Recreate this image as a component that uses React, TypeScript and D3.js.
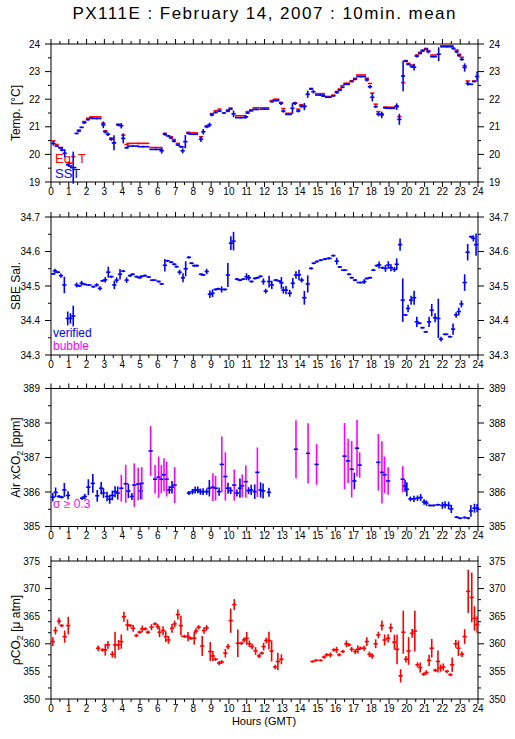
import React from 'react';
import * as d3 from 'd3';

// [hour, value, halfError, halfWidth?]
type Pt = [number, number, number, number?];
// [hour, value, halfWidth?]
type Lv = [number, number, number?];

const hours = d3.range(0, 25);

const sst: Pt[] = [
  [0.13,20.40,0.08],[0.32,20.30,0.03],[0.54,20.24,0.03,0.14],[0.62,20.16,0.05],[0.77,20.04,0.15],
  [0.96,19.62,0.05],[1.07,19.58,0.04],[1.25,19.52,0.58,0.18],[1.44,20.76,0.03],[1.57,20.85,0.04],
  [1.72,20.98,0.03],[1.87,21.15,0.05],[2.08,21.26,0.03],[2.27,21.31,0.03],[2.56,21.30,0.03,0.28],
  [2.94,21.07,0.12],[3.05,20.82,0.06],[3.20,20.73,0.06],[3.39,20.55,0.06],[3.54,20.42,0.27],
  [3.78,21.07,0.05],[3.95,21.04,0.1],[4.06,20.58,0.18],[4.25,20.24,0.03],[4.6,20.30,0.03,0.35],
  [5.2,20.28,0.03,0.33],[5.9,20.18,0.03,0.37],[6.22,20.13,0.1],[6.40,20.73,0.05],[6.59,20.67,0.03],
  [6.74,20.60,0.04],[6.91,20.48,0.05],[7.13,20.34,0.04],[7.30,20.28,0.03],[7.40,20.13,0.09],
  [7.55,20.46,0.24],[7.72,20.76,0.04],[8.02,20.73,0.03,0.25],[8.43,20.55,0.1],[8.56,20.82,0.1],
  [8.75,21.00,0.05],[8.91,21.07,0.08],[9.04,21.43,0.05],[9.25,21.52,0.04],[9.47,21.57,0.04],
  [9.72,21.50,0.03],[9.94,21.57,0.04],[10.09,21.64,0.03],[10.26,21.47,0.12],[10.65,21.33,0.03,0.31],
  [10.96,21.36,0.06],[11.05,21.50,0.03],[11.25,21.58,0.03],[11.53,21.63,0.03,0.2],
  [12.01,21.64,0.03,0.26],[12.41,21.91,0.03],[12.65,21.95,0.03,0.19],[12.93,21.85,0.06],[13.06,21.57,0.06],
  [13.35,21.45,0.03,0.19],[13.57,21.67,0.2],[13.72,21.85,0.06],[13.90,21.57,0.05],[14.07,21.75,0.06],
  [14.24,21.73,0.13],[14.43,22.18,0.13],[14.62,22.37,0.03],[14.75,22.27,0.06],[15.12,22.15,0.03,0.28],
  [15.31,22.11,0.03],[15.59,22.07,0.03,0.19],[15.87,22.12,0.03],[16.06,22.24,0.04],[16.23,22.33,0.04],
  [16.38,22.43,0.03],[16.62,22.54,0.03,0.19],[16.90,22.64,0.03],[17.09,22.72,0.03],[17.43,22.82,0.03,0.28],
  [17.75,22.70,0.06],[17.93,22.45,0.06],[18.06,22.07,0.15],[18.25,21.73,0.05],[18.40,21.46,0.08],
  [18.59,21.43,0.12],[18.78,21.69,0.04],[19.08,21.67,0.03,0.26],[19.43,21.73,0.12],[19.58,21.27,0.2],
  [19.79,22.84,0.55],[19.94,23.38,0.04],[20.09,23.26,0.03],[20.28,23.18,0.04],[20.41,23.16,0.12],
  [20.56,23.56,0.05],[20.74,23.66,0.04],[20.89,23.75,0.04],[21.08,23.81,0.03],[21.21,23.72,0.06],
  [21.50,23.54,0.03,0.19],[21.79,23.63,0.25],[22.25,23.90,0.03,0.38],[22.62,23.84,0.05],[22.80,23.72,0.05],
  [22.94,23.58,0.04],[23.09,23.44,0.05],[23.25,23.15,0.15],[23.42,22.57,0.08],[23.59,22.54,0.03,0.14],
  [23.78,22.64,0.03],[23.95,22.82,0.18],
];

const eqT: Lv[] = [
  [0.13,20.49],[0.32,20.36],[0.54,20.25,0.14],[0.96,19.70],[1.07,19.68],[1.25,19.92],[1.57,20.88],
  [1.87,21.19],[2.08,21.31],[2.27,21.36],[2.56,21.36,0.28],[2.94,21.13],[3.05,20.85],[3.39,20.59],
  [3.54,20.42],[3.78,21.09],[4.06,20.70],[4.25,20.36],[4.6,20.40,0.35],[5.2,20.40,0.33],[5.9,20.25,0.37],
  [6.40,20.76],[6.74,20.64],[6.91,20.54],[7.13,20.40],[7.40,20.27],[7.72,20.80],[8.02,20.78,0.25],
  [8.43,20.64],[8.75,21.04],[9.04,21.48],[9.25,21.58],[9.47,21.64],[9.94,21.61],[10.09,21.68],
  [10.65,21.40,0.31],[11.05,21.55],[11.25,21.62],[11.53,21.69,0.2],[12.01,21.69,0.26],[12.41,21.95],
  [12.65,22.0,0.19],[12.93,21.88],[13.06,21.66],[13.35,21.49,0.19],[13.72,21.87],[13.90,21.64],
  [14.07,21.80],[14.24,21.76],[14.62,22.39],[15.12,22.2,0.28],[15.59,22.1,0.19],[15.87,22.15],
  [16.06,22.28],[16.23,22.37],[16.38,22.49],[16.62,22.58,0.19],[16.90,22.67],[17.09,22.76],
  [17.43,22.88,0.28],[17.75,22.76],[17.93,22.57],[18.06,22.22],[18.25,21.82],[18.40,21.55],
  [18.59,21.47],[18.78,21.71],[19.08,21.71,0.26],[19.43,21.76],[19.58,21.37],[19.79,22.6],
  [19.94,23.40],[20.09,23.30],[20.28,23.24],[20.56,23.60],[20.74,23.70],[20.89,23.78],[21.08,23.84],
  [21.21,23.76],[21.50,23.60,0.19],[22.25,23.94,0.38],[22.80,23.78],[22.94,23.63],[23.09,23.52],
  [23.25,23.21],[23.42,22.66],[23.78,22.66],
];

const salinity: Pt[] = [
  [0.13,34.535,0.003],[0.22,34.544,0.006],[0.39,34.540,0.003],[0.56,34.530,0.006],[0.75,34.503,0.024],
  [0.94,34.406,0.02],[1.09,34.406,0.015],[1.25,34.413,0.03],[1.44,34.503,0.007],[1.59,34.500,0.003],
  [1.72,34.508,0.007],[1.89,34.505,0.003],[2.12,34.503,0.003,0.16],[2.38,34.498,0.003],[2.57,34.503,0.005],
  [2.75,34.493,0.006],[2.90,34.515,0.003],[3.05,34.518,0.008],[3.22,34.540,0.016],[3.39,34.527,0.003],
  [3.56,34.503,0.012],[3.69,34.517,0.008],[3.88,34.534,0.015],[4.06,34.543,0.003],[4.25,34.517,0.008],
  [4.44,34.530,0.003],[4.59,34.534,0.003],[4.81,34.527,0.003],[4.98,34.524,0.003],[5.09,34.528,0.003],
  [5.28,34.530,0.003],[5.49,34.526,0.003],[5.75,34.517,0.003,0.19],[6.05,34.513,0.003],[6.22,34.506,0.003],
  [6.40,34.560,0.018],[6.55,34.573,0.003],[6.76,34.569,0.003],[6.93,34.563,0.003],[7.06,34.556,0.003],
  [7.23,34.540,0.007],[7.42,34.524,0.013],[7.57,34.550,0.022],[7.75,34.583,0.003],[7.90,34.566,0.003],
  [8.05,34.559,0.003],[8.20,34.559,0.003],[8.43,34.534,0.003],[8.56,34.532,0.003],[8.75,34.542,0.008],
  [8.93,34.476,0.011],[9.08,34.479,0.011],[9.25,34.490,0.003],[9.40,34.492,0.003],[9.59,34.490,0.009],
  [9.78,34.490,0.003],[9.94,34.532,0.035],[10.11,34.624,0.02],[10.26,34.630,0.027],[10.45,34.520,0.003],
  [10.62,34.517,0.003],[10.81,34.520,0.003],[10.99,34.527,0.01],[11.12,34.524,0.008],[11.27,34.513,0.003],
  [11.46,34.522,0.003],[11.61,34.524,0.003],[11.78,34.528,0.003],[11.94,34.513,0.009],[12.07,34.485,0.007],
  [12.26,34.513,0.017],[12.41,34.503,0.012],[12.64,34.517,0.003,0.14],[12.84,34.514,0.003],[12.95,34.509,0.017],
  [13.06,34.488,0.01],[13.21,34.488,0.012],[13.42,34.479,0.01],[13.59,34.508,0.015],[13.77,34.532,0.011],
  [13.94,34.532,0.015],[14.09,34.517,0.007],[14.24,34.466,0.02],[14.43,34.506,0.025],[14.62,34.551,0.003],
  [14.77,34.566,0.003],[14.95,34.571,0.003],[15.16,34.575,0.003],[15.39,34.578,0.003],[15.62,34.580,0.003,0.16],
  [15.87,34.588,0.003],[16.06,34.572,0.01],[16.23,34.555,0.003],[16.48,34.546,0.003,0.18],[16.75,34.534,0.003],
  [16.90,34.524,0.003],[17.09,34.517,0.003],[17.37,34.510,0.003,0.19],[17.61,34.513,0.007],[17.75,34.522,0.003],
  [17.93,34.524,0.003],[18.12,34.546,0.003],[18.31,34.559,0.003],[18.44,34.561,0.01],[18.63,34.553,0.003],
  [18.80,34.551,0.01],[18.96,34.561,0.011],[19.11,34.553,0.01],[19.30,34.548,0.007],[19.43,34.563,0.017],
  [19.62,34.620,0.018],[19.77,34.459,0.063],[19.92,34.416,0.003],[20.07,34.435,0.011],[20.24,34.459,0.013],
  [20.41,34.466,0.02],[20.56,34.396,0.015],[20.71,34.392,0.003],[20.88,34.379,0.003],[21.06,34.367,0.003],
  [21.25,34.396,0.015],[21.40,34.430,0.018],[21.59,34.408,0.013],[21.77,34.406,0.057],[21.92,34.346,0.007],
  [22.18,34.360,0.003,0.16],[22.43,34.353,0.003],[22.60,34.375,0.016],[22.77,34.416,0.008],[22.92,34.426,0.011],
  [23.07,34.448,0.01],[23.25,34.510,0.024],[23.42,34.598,0.024],[23.61,34.643,0.003],[23.74,34.638,0.009],
  [23.89,34.620,0.032],
];

const airCO2: Pt[] = [
  [0.10,385.85,0.12],[0.26,385.99,0.14],[0.45,385.87,0.04],[0.60,385.85,0.04],[0.75,386.06,0.2],
  [0.96,385.90,0.12],[1.75,385.82,0.05],[1.90,385.87,0.08],[2.10,386.14,0.23],[2.35,386.25,0.27],
  [2.60,385.89,0.17],[2.82,386.11,0.18],[2.95,385.97,0.14],[3.15,385.87,0.14],[3.30,385.79,0.13],
  [3.45,385.90,0.14],[3.60,386.01,0.16],[3.75,385.97,0.19],[3.95,386.11,0.39],[4.20,386.24,0.55],
  [4.35,386.03,0.21],[4.55,385.87,0.1],[4.68,386.20,0.63],[4.90,386.23,0.47],[5.05,386.03,0.24],
  [5.10,386.25,0.47],[5.60,387.19,0.72],[5.85,386.37,0.41],[6.05,386.43,0.6],[6.20,386.37,0.41],
  [6.35,386.50,0.48],[6.50,386.37,0.5],[6.65,386.06,0.11],[6.80,386.14,0.18],[6.95,386.20,0.52],
  [7.75,385.97,0.06],[7.95,386.01,0.08],[8.10,386.06,0.1],[8.25,386.06,0.1],[8.40,386.01,0.09],
  [8.55,386.01,0.1],[8.75,386.01,0.09],[8.90,386.11,0.24],[9.10,386.14,0.4],[9.25,386.11,0.36],
  [9.45,386.01,0.12],[9.60,386.80,0.81],[9.80,386.45,0.7],[9.95,386.11,0.16],[10.10,386.04,0.1],
  [10.30,386.20,0.45],[10.45,385.97,0.1],[10.62,386.11,0.28],[10.75,386.18,0.33],[10.95,386.30,0.47],
  [11.10,386.04,0.1],[11.25,386.06,0.15],[11.45,386.01,0.21],[11.60,386.57,0.72],[11.78,386.06,0.22],
  [11.92,386.03,0.22],[12.25,385.99,0.13],[13.77,387.24,0.84],[14.45,387.12,0.87],[14.93,386.80,0.59],
  [16.50,387.04,0.96],[16.70,386.90,0.64],[16.90,386.66,0.82],[17.05,386.32,0.24],[17.20,387.27,0.82],
  [17.35,386.78,0.37],[18.40,386.86,0.82],[18.60,386.57,0.9],[18.75,386.50,0.53],[18.95,386.32,0.4],
  [19.77,386.37,0.38],[19.90,386.18,0.17],[20.00,386.08,0.2],[20.20,385.80,0.07],[20.40,385.80,0.09],
  [20.60,385.82,0.08],[20.78,385.84,0.1],[20.97,385.71,0.08],[21.10,385.68,0.08],[21.30,385.61,0.03,0.12],
  [21.50,385.61,0.03,0.12],[21.75,385.63,0.03,0.14],[22.00,385.61,0.1],[22.15,385.63,0.1],[22.35,385.61,0.11],
  [22.50,385.51,0.12],[22.80,385.27,0.03,0.12],[23.00,385.24,0.03,0.12],[23.25,385.26,0.03,0.12],
  [23.45,385.24,0.03,0.1],[23.60,385.45,0.17],[23.80,385.53,0.13],[23.95,385.53,0.12],
];

const pCO2: Pt[] = [
  [0.10,360.4,0.8],[0.25,362.4,0.7],[0.45,364.1,0.6],[0.60,363.3,0.3],[0.77,361.3,1.1],[0.97,363.3,1.6],
  [2.65,359.2,0.5],[2.90,358.9,0.3],[3.05,358.9,1.05],[3.20,359.8,0.7],[3.45,358.1,0.6],[3.60,359.8,2.4],
  [3.80,359.8,0.9],[3.95,360.4,1.3],[4.10,364.9,0.9],[4.30,363.4,1.0],[4.45,363.3,0.3],[4.62,362.8,0.6],
  [4.80,361.5,0.3],[4.98,362.1,0.3],[5.13,362.7,0.6],[5.30,362.7,0.3],[5.45,362.1,0.3],[5.65,363.0,0.55],
  [5.85,363.6,0.3],[6.00,363.1,0.5],[6.10,362.1,0.9],[6.30,362.4,0.8],[6.45,361.3,1.0],[6.60,360.7,0.7],
  [6.80,362.8,0.8],[6.95,363.6,0.6],[7.13,365.3,0.9],[7.30,363.3,1.8],[7.50,361.35,0.3,0.18],[7.70,361.3,0.85],
  [7.85,361.0,0.3],[8.05,361.0,1.15],[8.15,362.3,0.5],[8.30,363.0,0.4],[8.50,359.6,1.8],[8.60,362.4,0.6],
  [8.75,362.9,0.5],[8.95,358.6,1.7],[9.10,357.8,0.9],[9.25,357.2,0.3],[9.45,356.5,0.4],[9.60,356.7,0.3],
  [9.80,358.3,0.8],[9.95,359.5,0.5],[10.10,364.2,2.2],[10.30,367.1,1.0],[10.50,360.1,2.5],[10.70,360.1,0.3],
  [10.85,360.7,0.45],[11.00,361.0,1.15],[11.15,360.0,0.6],[11.30,359.5,0.5],[11.50,358.7,0.7],[11.70,357.8,0.4],
  [11.85,358.3,0.3],[11.95,359.5,0.7],[12.10,360.6,0.5],[12.25,360.6,1.6],[12.40,358.7,1.9],[12.60,355.8,0.4],
  [12.75,356.8,1.6],[12.95,357.2,0.9],[14.70,356.8,0.2],[14.90,357.0,0.2],[15.15,357.0,0.2],[15.35,357.6,0.3],
  [15.50,358.0,0.3],[15.70,358.0,0.45],[15.90,358.9,0.3],[16.05,358.9,0.55],[16.20,358.0,0.3],[16.40,358.6,0.3],
  [16.60,360.0,0.6],[16.75,359.8,0.3],[16.90,359.0,0.45],[17.10,358.6,0.45],[17.25,359.0,0.75],[17.40,359.2,0.3],
  [17.60,359.2,0.45],[17.75,360.4,0.8],[17.90,358.1,0.5],[18.05,357.8,0.5],[18.25,360.0,0.8],[18.40,361.6,0.6],
  [18.60,363.3,0.9],[18.75,360.7,1.0],[18.95,361.0,0.75],[19.10,362.9,0.8],[19.30,360.3,1.35],[19.45,359.0,2.7],
  [19.65,354.2,1.2],[19.80,362.1,3.9],[19.95,357.2,0.6],[20.10,358.7,2.5],[20.30,361.9,0.8],[20.45,362.3,3.7],
  [20.60,356.2,0.45],[20.75,355.7,0.9],[20.95,354.5,0.3],[21.10,354.8,0.4],[21.25,357.0,1.0],[21.40,359.2,1.7],
  [21.60,355.2,0.3],[21.75,356.8,2.0],[21.90,355.6,0.65],[22.05,355.8,0.65],[22.25,355.0,0.3],[22.45,354.4,0.3],
  [22.55,356.2,1.3],[22.75,360.0,0.7],[22.90,359.2,1.4],[23.10,358.1,0.5],[23.25,361.3,1.35],[23.45,369.5,3.9],
  [23.65,368.4,4.5],[23.80,364.6,2.2],[23.95,363.5,1.5],
];

const BLUE = '#0000ff';
const RED = '#ff0000';
const MAGENTA = '#ff00ff';
const FONT = '"Liberation Sans", Arial, Helvetica, sans-serif';

const X0 = 51;
const X1 = 478;
const H = 138;
const x = d3.scaleLinear().domain([0, 24]).range([X0, X1]);

const W0 = 0.12; // default half width of a 10 min mark (hours)
const SW = 1.6;

function Crosses({ data, y, color, vColor }: { data: Pt[]; y: d3.ScaleLinear<number, number>; color: string; vColor?: (d: Pt) => string }) {
  return (
    <g strokeWidth={SW} fill="none">
      {data.map((d, i) => {
        const w = d[3] ?? W0;
        return (
          <g key={i}>
            <line x1={x(d[0])} x2={x(d[0])} y1={y(d[1] - d[2])} y2={y(d[1] + d[2])} stroke={vColor ? vColor(d) : color} />
            <line x1={x(d[0] - w)} x2={x(d[0] + w)} y1={y(d[1])} y2={y(d[1])} stroke={color} />
          </g>
        );
      })}
    </g>
  );
}

function Levels({ data, y, color }: { data: Lv[]; y: d3.ScaleLinear<number, number>; color: string }) {
  return (
    <g strokeWidth={SW}>
      {data.map((d, i) => {
        const w = d[2] ?? W0;
        return <line key={i} x1={x(d[0] - w)} x2={x(d[0] + w)} y1={y(d[1])} y2={y(d[1])} stroke={color} />;
      })}
    </g>
  );
}

function Frame({ top, y, major, minor, fmt, title, showX }: {
  top: number; y: d3.ScaleLinear<number, number>; major: number; minor: number;
  fmt: (n: number) => string; title: React.ReactNode; showX: boolean;
}) {
  const bottom = top + H;
  const majT = y.ticks(major);
  const minT = y.ticks(minor);
  const xMin = x.ticks(48);
  return (
    <g fontFamily={FONT}>
      <rect x={X0} y={top} width={X1 - X0} height={H} fill="none" stroke="black" strokeWidth={1} />
      <g stroke="black" strokeWidth={1}>
        {xMin.map((t) => {
          const len = Number.isInteger(t) ? 5 : 3;
          return (
            <g key={t}>
              <line x1={x(t)} x2={x(t)} y1={top} y2={top - len} />
              <line x1={x(t)} x2={x(t)} y1={bottom} y2={bottom + len} />
            </g>
          );
        })}
        {minT.map((v) => {
          const isMaj = majT.some((m) => Math.abs(m - v) < 1e-9);
          const len = isMaj ? 6 : 3;
          return (
            <g key={v}>
              <line x1={X0} x2={X0 - len} y1={y(v)} y2={y(v)} />
              <line x1={X1} x2={X1 + len} y1={y(v)} y2={y(v)} />
            </g>
          );
        })}
      </g>
      <g fontSize={10} fill="black">
        {majT.map((v) => (
          <g key={v}>
            <text x={X0 - 11} y={y(v) + 3.5} textAnchor="end">{fmt(v)}</text>
            <text x={X1 + 11} y={y(v) + 3.5} textAnchor="start">{fmt(v)}</text>
          </g>
        ))}
        {showX && hours.map((h) => (
          <text key={h} x={x(h)} y={bottom + 12.5} textAnchor="middle">{h}</text>
        ))}
      </g>
      <text transform={`translate(20,${top + H / 2}) rotate(-90)`} textAnchor="middle" fontSize={12}>{title}</text>
    </g>
  );
}

export default function App() {
  const tops = [44, 217, 388.5, 561];
  const yT = d3.scaleLinear().domain([19, 24]).range([tops[0] + H, tops[0]]);
  const yS = d3.scaleLinear().domain([34.3, 34.7]).range([tops[1] + H, tops[1]]);
  const yA = d3.scaleLinear().domain([385, 389]).range([tops[2] + H, tops[2]]);
  const yP = d3.scaleLinear().domain([350, 375]).range([tops[3] + H, tops[3]]);
  const fInt = d3.format('d');
  const f1 = d3.format('.1f');

  return (
    <svg width={515} height={739} style={{ position: 'absolute', left: 0, top: 0, background: 'white' }}>
      <rect width={515} height={739} fill="white" />
      <text x={264} y={19} textAnchor="middle" fontFamily={FONT} fontSize={17} textLength={383} lengthAdjust="spacing">
        PX111E : February 14, 2007 : 10min. mean
      </text>

      <Frame top={tops[0]} y={yT} major={5} minor={10} fmt={fInt} title="Temp. [°C]" showX />
      <Levels data={eqT} y={yT} color={RED} />
      <Crosses data={sst} y={yT} color={BLUE} />
      <text x={55} y={163} fontFamily={FONT} fontSize={13} fill={RED}>Eq. T</text>
      <text x={55} y={178} fontFamily={FONT} fontSize={13} fill={BLUE}>SST</text>

      <Frame top={tops[1]} y={yS} major={4} minor={8} fmt={f1} title="SBE Sal." showX />
      <Crosses data={salinity} y={yS} color={BLUE} />
      <text x={53} y={337} fontFamily={FONT} fontSize={12} fill={BLUE}>verified</text>
      <text x={53} y={350} fontFamily={FONT} fontSize={12} fill={MAGENTA}>bubble</text>

      <Frame top={tops[2]} y={yA} major={4} minor={8} fmt={fInt}
        title={<>Air xCO<tspan fontSize={9} dy={3}>2</tspan><tspan dy={-3}> [ppm]</tspan></>} showX />
      <Crosses data={airCO2} y={yA} color={BLUE} vColor={(d) => (d[2] >= 0.3 ? MAGENTA : BLUE)} />
      <text x={53} y={508} fontFamily={FONT} fontSize={12} fill={MAGENTA}>σ ≥ 0.3</text>

      <Frame top={tops[3]} y={yP} major={5} minor={10} fmt={fInt}
        title={<>ρCO<tspan fontSize={9} dy={3}>2</tspan><tspan dy={-3}> [μ atm]</tspan></>} showX />
      <Crosses data={pCO2} y={yP} color={RED} />
      <text x={264} y={725} textAnchor="middle" fontFamily={FONT} fontSize={11}>Hours (GMT)</text>
    </svg>
  );
}
